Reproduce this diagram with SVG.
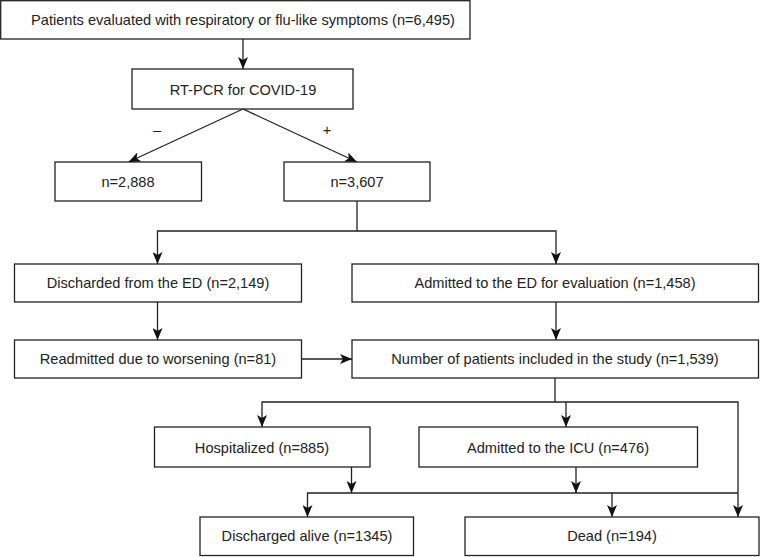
<svg xmlns="http://www.w3.org/2000/svg" width="760" height="557" viewBox="0 0 760 557">
<style>
.box{fill:#fff;stroke:#222;stroke-width:1.3}
.t{font-family:"Liberation Sans",Arial,sans-serif;font-size:14.6px;fill:#222;text-anchor:middle;dominant-baseline:central}
.c{fill:none;stroke:#222;stroke-width:1.3}
</style>
<defs>
<marker id="ah" viewBox="0 0 12 10" refX="12" refY="5" markerWidth="12" markerHeight="10" markerUnits="userSpaceOnUse" orient="auto">
<path d="M0,0 L12,5 L0,10 L3,5 z" fill="#111"/>
</marker>
</defs>
<rect width="760" height="557" fill="#fff"/>
<g id="connectors">
<line class="c" x1="243" y1="39" x2="243" y2="69" marker-end="url(#ah)"/>
<line class="c" x1="243" y1="109" x2="128.5" y2="162" marker-end="url(#ah)"/>
<line class="c" x1="243" y1="109" x2="357" y2="162" marker-end="url(#ah)"/>
<polyline class="c" points="357,201 357,231 157.5,231 157.5,264" marker-end="url(#ah)"/>
<polyline class="c" points="357,231 556,231 556,264" marker-end="url(#ah)"/>
<line class="c" x1="157.5" y1="302" x2="157.5" y2="340" marker-end="url(#ah)"/>
<line class="c" x1="556" y1="302" x2="556" y2="340" marker-end="url(#ah)"/>
<line class="c" x1="301.5" y1="359" x2="352" y2="359" marker-end="url(#ah)"/>
<polyline class="c" points="555,378 555,402 262,402 262,427" marker-end="url(#ah)"/>
<line class="c" x1="566" y1="402" x2="566" y2="427" marker-end="url(#ah)"/>
<polyline class="c" points="555,402 738,402 738,517" marker-end="url(#ah)"/>
<line class="c" x1="351.5" y1="467" x2="351.5" y2="493" marker-end="url(#ah)"/>
<line class="c" x1="576" y1="467" x2="576" y2="493" marker-end="url(#ah)"/>
<polyline class="c" points="738,493 307.5,493 307.5,517" marker-end="url(#ah)"/>
<line class="c" x1="612" y1="493" x2="612" y2="517" marker-end="url(#ah)"/>
<text class="t" x="157" y="130">–</text>
<text class="t" x="327" y="130">+</text>
</g>
<g id="n1"><rect class="box" x="0.7" y="0.7" width="469.3" height="38.3"/><text class="t" x="243" y="20">Patients evaluated with respiratory or flu-like symptoms (n=6,495)</text></g>
<g id="n2"><rect class="box" x="132" y="69" width="221" height="40"/><text class="t" x="243" y="90">RT-PCR for COVID-19</text></g>
<g id="n3"><rect class="box" x="55" y="162" width="146.5" height="39"/><text class="t" x="128" y="182">n=2,888</text></g>
<g id="n4"><rect class="box" x="284" y="162" width="146" height="39"/><text class="t" x="357" y="182">n=3,607</text></g>
<g id="n5"><rect class="box" x="14.5" y="264" width="287" height="38"/><text class="t" x="158" y="283">Discharded from the ED (n=2,149)</text></g>
<g id="n6"><rect class="box" x="352" y="264" width="406.5" height="38"/><text class="t" x="555" y="283">Admitted to the ED for evaluation (n=1,458)</text></g>
<g id="n7"><rect class="box" x="14.5" y="340" width="287" height="38"/><text class="t" x="158" y="359">Readmitted due to worsening (n=81)</text></g>
<g id="n8"><rect class="box" x="352" y="340" width="406.5" height="38"/><text class="t" x="555" y="359">Number of patients included in the study (n=1,539)</text></g>
<g id="n9"><rect class="box" x="154.5" y="427" width="215.5" height="40"/><text class="t" x="262" y="448">Hospitalized (n=885)</text></g>
<g id="n10"><rect class="box" x="419" y="427" width="278.5" height="40"/><text class="t" x="558" y="448">Admitted to the ICU (n=476)</text></g>
<g id="n11"><rect class="box" x="200" y="517" width="213.5" height="38.5"/><text class="t" x="307" y="536">Discharged alive (n=1345)</text></g>
<g id="n12"><rect class="box" x="465" y="517" width="294" height="38.5"/><text class="t" x="612" y="536">Dead (n=194)</text></g>
</svg>
